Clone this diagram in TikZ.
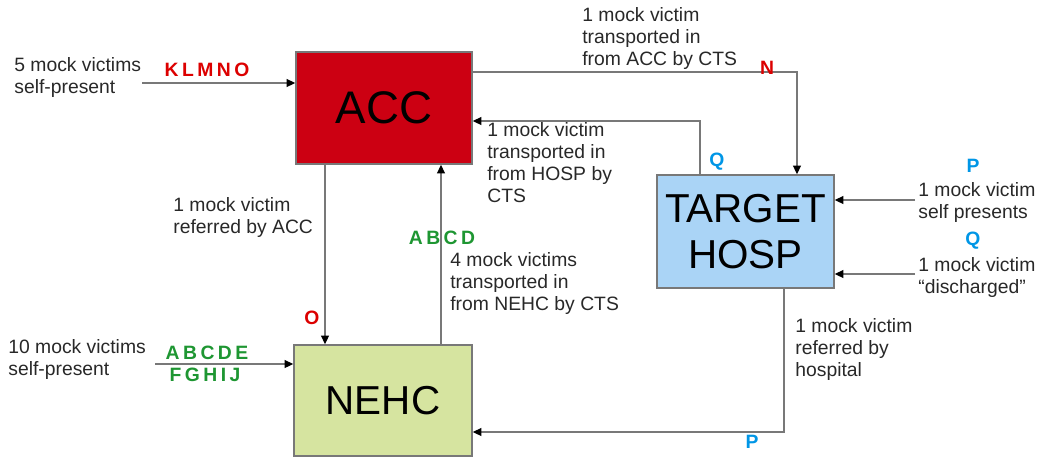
\documentclass[tikz,border=0pt]{standalone}
\usepackage{fontspec}
\setmainfont{Liberation Sans}
\newfontfamily\codefont[LetterSpace=18]{Liberation Sans}
\usepackage{xcolor}
\usetikzlibrary{arrows.meta, positioning}

\definecolor{accred}{RGB}{204,0,18}
\definecolor{hospblue}{RGB}{170,212,246}
\definecolor{nehcgreen}{RGB}{214,228,160}
\definecolor{codered}{RGB}{220,0,0}
\definecolor{codeblue}{RGB}{0,150,230}
\definecolor{codegreen}{RGB}{30,150,50}
\definecolor{linegray}{RGB}{120,120,120}
\definecolor{textgray}{RGB}{40,40,40}

\begin{document}
\begin{tikzpicture}[
    x=0.02cm, y=-0.02cm,
    site/.style={rectangle, draw=linegray, line width=0.8pt, text=black, align=center, inner sep=0pt, font=\fontsize{23}{26}\selectfont},
    note/.style={anchor=north west, align=left, inner sep=0pt, text=textgray, font=\fontsize{11}{12.5}\selectfont},
    code/.style={inner sep=0pt, font=\codefont\bfseries\fontsize{11}{12}\selectfont},
    flow/.style={draw=linegray, line width=0.8pt, -{Triangle[length=5pt,width=4.5pt,black]}}
]
\useasboundingbox (0,0) rectangle (1045,458);

% Sites
\node[site, fill=accred, minimum width=3.52cm, minimum height=2.24cm, font=\fontsize{26}{28}\selectfont] (acc) at (384,108) {ACC};
\node[site, fill=hospblue, minimum width=3.54cm, minimum height=2.26cm] (hosp) at (745.5,231.5) {TARGET\\HOSP};
\node[site, fill=nehcgreen, minimum width=3.56cm, minimum height=2.22cm] (nehc) at (383,400.5) {NEHC};

% Free ends of the incoming arrows
\coordinate (accin) at (142,83);
\coordinate (nehcin) at (155,364);
\coordinate (hospself) at (915,200);
\coordinate (hospdis) at (915,274);

% Arrows
\draw[flow] (accin) -- (accin -| acc.west);
\draw[flow] (nehcin) -- (nehcin -| nehc.west);
\draw[flow] (hospself) -- (hospself -| hosp.east);
\draw[flow] (hospdis) -- (hospdis -| hosp.east);
\draw[flow] ([yshift=0.72cm]acc.east) -| ([xshift=1.03cm]hosp.north);
\draw[flow] ([xshift=-0.91cm]hosp.north) |- ([yshift=-0.26cm]acc.east);
\draw[flow] ([xshift=-1.18cm]acc.south) -- ([xshift=-1.18cm]acc.south |- nehc.north);
\draw[flow] ([xshift=1.16cm]nehc.north) -- ([xshift=1.16cm]nehc.north |- acc.south);
\draw[flow] ([xshift=0.77cm]hosp.south) |- ([yshift=-0.63cm]nehc.east);

% Labels
\node[note] (accselfnote) at (14,57) {5 mock victims\\self-present};
\node[code, text=codered] (accselfcode) at (207,70) {KLMNO};
\node[note] (acchospnote) at (582,7) {1 mock victim\\transported in\\from ACC by CTS};
\node[code, text=codered] (acchospcode) at (767,68) {N};
\node[note] (hospaccnote) at (487,122) {1 mock victim\\transported in\\from HOSP by\\CTS};
\node[code, text=codeblue] (hospacccode) at (717,162) {Q};
\node[code, text=codeblue] (hospselfcode) at (973,166) {P};
\node[note] (hospselfnote) at (918,182) {1 mock victim\\self presents};
\node[code, text=codeblue] (hospdiscode) at (973,241) {Q};
\node[note] (hospdisnote) at (918,257) {1 mock victim\\“discharged”};
\node[note] (accnehcnote) at (173,197) {1 mock victim\\referred by ACC};
\node[code, text=codered] (accnehccode) at (312,318) {O};
\node[code, text=codegreen] (nehcacccode) at (442,238) {ABCD};
\node[note] (nehcaccnote) at (450,252) {4 mock victims\\transported in\\from NEHC by CTS};
\node[note] (nehcselfnote) at (8,339) {10 mock victims\\self-present};
\node[code, text=codegreen] (nehcselfcodea) at (207,353) {ABCDE};
\node[code, text=codegreen] (nehcselfcodeb) at (205,375) {FGHIJ};
\node[note] (hospnehcnote) at (795,318) {1 mock victim\\referred by\\hospital};
\node[code, text=codeblue] (hospnehccode) at (752,442) {P};

\end{tikzpicture}
\end{document}
